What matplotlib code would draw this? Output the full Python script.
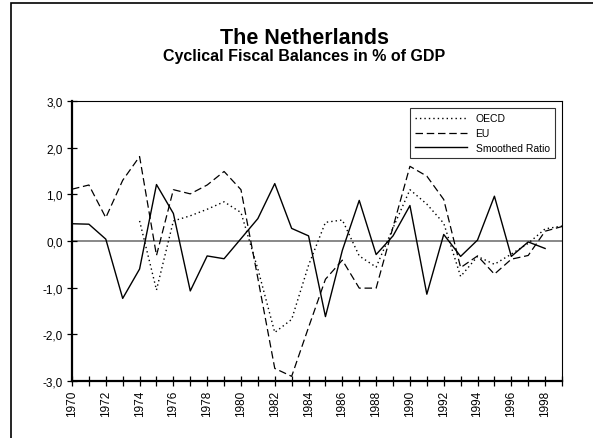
#!/usr/bin/env python
"""
Netherlands cyclical fiscal balances (OECD, EU, smoothed ratio).
"""

import matplotlib
matplotlib.use("Agg")
import matplotlib.pyplot as plt
import matplotlib.patches as mpatches
from matplotlib.ticker import MultipleLocator, FuncFormatter

plt.rcParams['font.family'] = ['Liberation Sans', 'DejaVu Sans']

# Data
years = list(range(1970, 2000))

oecd_years = list(range(1974, 2000))
oecd = [0.43, -1.05, 0.43, 0.54, 0.68, 0.84, 0.61, -0.6, -1.96, -1.68,
        -0.52, 0.4, 0.45, -0.32, -0.56, 0.28, 1.1, 0.79, 0.38, -0.76,
        -0.33, -0.5, -0.28, -0.05, 0.26, 0.32]

eu = [1.11, 1.2, 0.5, 1.3, 1.81, -0.31, 1.1, 1.01, 1.2, 1.49,
      1.1, -0.8, -2.73, -2.9, -1.85, -0.82, -0.41, -1.01, -1.01, 0.3,
      1.6, 1.39, 0.89, -0.57, -0.32, -0.71, -0.39, -0.31, 0.21, 0.31]

smooth_years = list(range(1970, 1999))
smoothed = [0.37, 0.36, 0.04, -1.23, -0.6, 1.21, 0.59, -1.07, -0.32, -0.38,
            0.05, 0.48, 1.23, 0.27, 0.11, -1.62, -0.2, 0.87, -0.29, 0.11,
            0.76, -1.14, 0.14, -0.33, 0.02, 0.96, -0.33, -0.02, -0.16]

fig = plt.figure(figsize=(5.93, 4.39), dpi=100)
ax = fig.add_axes([72 / 593, 1 - 382 / 439, 490 / 593, 280 / 439])

# outer frame, cut off at right and bottom like the original
fig.patches.append(mpatches.Rectangle((11 / 593, -0.1), 1.2, 1.1 - 4 / 439,
                                      transform=fig.transFigure, fill=False,
                                      edgecolor='black', linewidth=1.2))

ax.axhline(0, color='#7f7f7f', linewidth=1.3, zorder=1)

ax.plot(oecd_years, oecd, color='black', linewidth=1.0,
        linestyle=(0, (1, 2.2)), label='OECD')
ax.plot(years, eu, color='black', linewidth=0.9,
        linestyle=(0, (6, 3)), label='EU')
ax.plot(smooth_years, smoothed, color='black', linewidth=1.0,
        linestyle='-', label='Smoothed Ratio')

ax.set_xlim(1970, 1999)
ax.set_ylim(-3, 3)

ax.xaxis.set_minor_locator(MultipleLocator(1))
ax.yaxis.set_major_locator(MultipleLocator(1))
ax.yaxis.set_major_formatter(FuncFormatter(lambda v, p: f'{v:.1f}'.replace('.', ',')))
ax.set_xticks(range(1970, 1999, 2))
ax.set_xticklabels([str(y) for y in range(1970, 1999, 2)], rotation=90)

ax.tick_params(axis='both', which='both', direction='inout', length=7,
               width=0.9, labelsize=8.5, color='black')
ax.tick_params(axis='x', pad=3)
ax.tick_params(axis='y', pad=3)

for side in ['left', 'bottom']:
    ax.spines[side].set_linewidth(1.6)
for side in ['top', 'right']:
    ax.spines[side].set_linewidth(0.8)

leg = ax.legend(loc='upper right', fontsize=7.5, handlelength=5,
                frameon=True, fancybox=False, borderaxespad=0.7,
                labelspacing=0.45, borderpad=0.5)
leg.get_frame().set_edgecolor('black')
leg.get_frame().set_linewidth(0.8)

fig.text(304 / 593, 1 - 38 / 439, 'The Netherlands', ha='center', va='center',
         fontsize=15.5, fontweight='bold')
fig.text(304 / 593, 1 - 57 / 439, 'Cyclical Fiscal Balances in % of GDP',
         ha='center', va='center', fontsize=11.5, fontweight='bold')

plt.savefig('out.png', dpi=100)
plt.close()
